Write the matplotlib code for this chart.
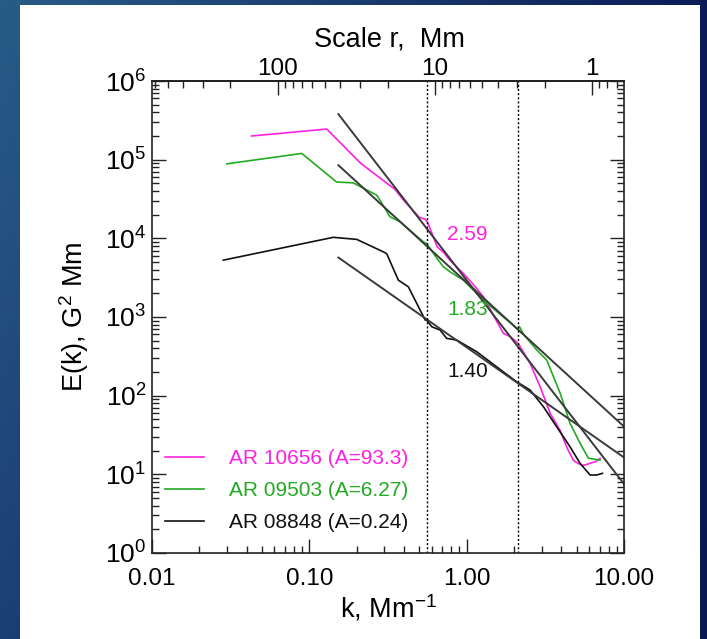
import numpy as np
import matplotlib
matplotlib.use("Agg")
import matplotlib.pyplot as plt
from matplotlib.patches import Rectangle
from matplotlib.ticker import FixedLocator, NullFormatter, LogLocator

plt.rcParams['font.family'] = ['Liberation Sans', 'DejaVu Sans']
plt.rcParams['mathtext.fontset'] = 'custom'
plt.rcParams['mathtext.rm'] = 'Liberation Sans'
plt.rcParams['mathtext.it'] = 'Liberation Sans'

# ---------------- data ----------------
k_10656 = [0.043, 0.129, 0.212, 0.30, 0.35, 0.40, 0.50, 0.545, 0.565, 0.65, 0.72, 0.78,
           0.95, 1.1, 1.28, 1.5, 1.71, 1.9, 2.13, 2.53, 2.93, 3.39, 3.93, 4.33, 4.77,
           5.2, 5.52, 6.09, 6.6, 7.05]
E_10656 = [2.0e5, 2.45e5, 9.0e4, 5.3e4, 4.2e4, 3.0e4, 1.85e4, 1.75e4, 1.6e4, 7.8e3, 6.5e3,
           5.3e3, 3.6e3, 2.6e3, 1.8e3, 1.0e3, 620, 560, 460, 257, 130, 60, 36, 22, 15,
           13.5, 13, 13.8, 14.5, 16]

k_09503 = [0.0299, 0.0895, 0.149, 0.19, 0.268, 0.281, 0.326, 0.378, 0.45, 0.531, 0.557,
           0.65, 0.711, 0.783, 0.953, 1.276, 1.71, 1.98, 2.1, 2.17, 2.3, 2.79, 3.23, 3.93,
           4.54, 5.26, 5.94, 7.05]
E_09503 = [8.85e4, 1.2e5, 5.2e4, 5.07e4, 3.54e4, 3.06e4, 1.88e4, 1.62e4, 1.2e4, 9.0e3,
           8.6e3, 5.5e3, 4.35e3, 3.76e3, 2.94e3, 1.64e3, 1.0e3, 789, 700, 751, 600, 380,
           283, 107, 44.5, 24.8, 16, 15.2]

k_08848 = [0.0284, 0.142, 0.2, 0.295, 0.31, 0.368, 0.426, 0.545, 0.557, 0.60, 0.678,
           0.746, 0.865, 1.16, 1.55, 2.08, 2.53, 3.08, 3.74, 4.54, 5.26, 6.09, 6.7, 7.3]
E_08848 = [5.28e3, 1.03e4, 9.7e3, 6.74e3, 6.4e3, 2.94e3, 2.42e3, 914, 914, 751, 682,
           535, 509, 361, 233, 150, 118, 72, 40, 22.4, 13.8, 9.8, 9.8, 10.3]

labels = ["AR 10656 (A=93.3)", "AR 09503 (A=6.27)", "AR 08848 (A=0.24)"]
colors = ["#ff20e0", "#22aa22", "#111111"]

fit_slopes = [-2.59, -1.83, -1.40]
fit_E0 = [3.79e5, 8.5e4, 5.7e3]
fit_k_range = [0.153, 10.0]
fit_text = ["2.59", "1.83", "1.40"]
fit_text_pos = [(0.75, 1.13e4), (0.75, 1.26e3), (0.75, 2.0e2)]

vlines_k = [0.557, 2.11]

xticks = [0.01, 0.1, 1.0, 10.0]
xticklabels = ["0.01", "0.10", "1.00", "10.00"]
yticks = [1, 10, 100, 1e3, 1e4, 1e5, 1e6]
yticklabels = [r"$10^{%d}$" % i for i in range(7)]
r_major = [100, 10, 1]
r_minor = [600, 500, 400, 300, 200, 90, 80, 70, 60, 50, 40, 30, 20,
           9, 8, 7, 6, 5, 4, 3, 2, 0.9, 0.8, 0.7]

# ---------------- figure ----------------
W, H = 707, 639
fig = plt.figure(figsize=(W / 100, H / 100), dpi=100)

# background gradient
bg = fig.add_axes([0, 0, 1, 1])
bg.set_axis_off()
tl = np.array([40, 92, 135]) / 255
tr = np.array([12, 28, 88]) / 255
bl = np.array([28, 62, 118]) / 255
br = np.array([10, 24, 82]) / 255
u = np.linspace(0, 1, 200)[None, :, None]
v = np.linspace(0, 1, 200)[:, None, None]
img = (1 - v) * ((1 - u) * tl + u * tr) + v * ((1 - u) * bl + u * br)
bg.imshow(img, extent=[0, 1, 0, 1], aspect='auto', origin='upper')
bg.set_xlim(0, 1)
bg.set_ylim(0, 1)
bg.add_patch(Rectangle((20 / W, 0), 680 / W, (H - 5) / H, facecolor='white',
                       edgecolor='none', transform=bg.transAxes))

ax = fig.add_axes([152 / W, (H - 553) / H, 472 / W, 472 / H])
ax.set_xscale('log')
ax.set_yscale('log')
ax.set_xlim(0.01, 10)
ax.set_ylim(1, 1e6)

for kk, EE, c, lab in zip([k_10656, k_09503, k_08848], [E_10656, E_09503, E_08848],
                          colors, labels):
    ax.plot(kk, EE, color=c, lw=1.2, label=lab)

for s, E0 in zip(fit_slopes, fit_E0):
    kf = np.array(fit_k_range)
    ax.plot(kf, E0 * (kf / fit_k_range[0]) ** s, color='#3a3a3a', lw=1.4)

for t, (xk, yE), c in zip(fit_text, fit_text_pos, colors):
    ax.text(xk, yE, t, color=c, fontsize=15, ha='left', va='center')

for kv in vlines_k:
    ax.axvline(kv, color='black', lw=1.0, ls=(0, (1.5, 1.5)))

ax.set_xticks(xticks)
ax.set_xticklabels(xticklabels, fontsize=17.5)
ax.set_yticks(yticks)
ax.set_yticklabels(yticklabels, fontsize=19)
ax.yaxis.set_minor_locator(LogLocator(base=10, subs=np.arange(2, 10), numticks=20))
ax.xaxis.set_minor_locator(LogLocator(base=10, subs=np.arange(2, 10), numticks=20))
ax.xaxis.set_minor_formatter(NullFormatter())
ax.yaxis.set_minor_formatter(NullFormatter())
ax.tick_params(which='both', direction='in', top=False, right=True, width=1.0,
               color='#222222')
ax.tick_params(which='major', length=10)
ax.tick_params(which='minor', length=5)
ax.tick_params(axis='x', pad=11)
ax.tick_params(axis='y', pad=4)
for sp in ax.spines.values():
    sp.set_linewidth(1.2)
    sp.set_color('#222222')

ax.set_xlabel(r"k, Mm$^{-1}$", fontsize=19.5, labelpad=2)
ax.set_ylabel(r"E(k), G$^2$ Mm", fontsize=19.5, labelpad=10)

sec = ax.secondary_xaxis('top', functions=(lambda k: 2 * np.pi / k,
                                            lambda r: 2 * np.pi / r))
sec.set_xticks(r_major)
sec.set_xticklabels([str(r) for r in r_major], fontsize=17.5)
sec.xaxis.set_minor_locator(FixedLocator(r_minor))
sec.xaxis.set_minor_formatter(NullFormatter())
sec.tick_params(which='both', direction='in', color='#222222', width=1.0)
sec.tick_params(which='major', length=10, pad=1)
sec.tick_params(which='minor', length=5)
sec.spines['top'].set_linewidth(1.2)
fig.text(389 / W, 1 - 39 / H, "Scale r,  Mm", fontsize=19.5, ha='center', va='center')

leg = ax.legend(loc='upper left', bbox_to_anchor=(0.0, 0.246), frameon=False,
                fontsize=15, handlelength=1.9, handletextpad=1.2,
                labelspacing=0.62, labelcolor='linecolor', borderaxespad=0.2)

fig.savefig("out.png", dpi=100)
